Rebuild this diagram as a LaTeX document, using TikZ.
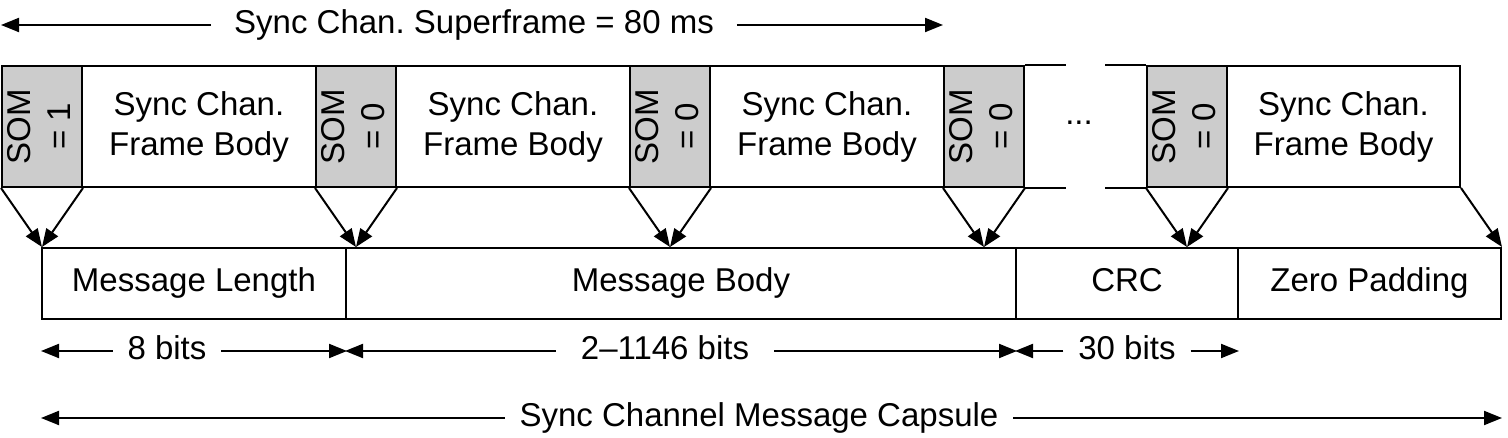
\documentclass[tikz,border=0pt]{standalone}
\usepackage{fontspec}
\setmainfont{Liberation Sans}
\usetikzlibrary{arrows.meta,calc}

\begin{document}
\begin{tikzpicture}[x=1pt,y=1pt,line width=2pt,font=\fontsize{33}{40}\selectfont,
  som/.style={draw=black, fill=black!20, inner sep=0pt, minimum width=80pt, minimum height=121pt},
  body/.style={draw=black, align=center, inner sep=0pt, minimum width=234pt, minimum height=121pt},
  field/.style={draw=black, inner sep=0pt, minimum height=71pt, text height=24pt, text depth=7pt},
  tag/.style={inner xsep=14pt, inner ysep=0pt, text height=24pt, text depth=7pt},
  dim/.style={-{Triangle[length=18pt,width=14pt]}}]
\useasboundingbox (0,0) rectangle (1508,438);

% frames of the superframe
\draw (42,311.5) node[som] (som1) {\rotatebox{90}{\begin{tabular}{@{}c@{}}SOM\\= 1\end{tabular}}};
\draw (199,311.5) node[body] (body1) {Sync Chan.\\Frame Body};
\draw (356,311.5) node[som] (som2) {\rotatebox{90}{\begin{tabular}{@{}c@{}}SOM\\= 0\end{tabular}}};
\draw (513,311.5) node[body] (body2) {Sync Chan.\\Frame Body};
\draw (670,311.5) node[som] (som3) {\rotatebox{90}{\begin{tabular}{@{}c@{}}SOM\\= 0\end{tabular}}};
\draw (827,311.5) node[body] (body3) {Sync Chan.\\Frame Body};
\draw (984,311.5) node[som] (som4) {\rotatebox{90}{\begin{tabular}{@{}c@{}}SOM\\= 0\end{tabular}}};
\draw (1187,311.5) node[som] (som5) {\rotatebox{90}{\begin{tabular}{@{}c@{}}SOM\\= 0\end{tabular}}};
\draw (1343.5,311.5) node[body, minimum width=233pt] (body5) {Sync Chan.\\Frame Body};
\draw (1079,315) node[inner sep=0pt] (dots) {...};

% open frame around the dots
\draw (som4.north east) -- ++(41,0);
\draw (som4.south east) -- ++(41,0);
\draw (som5.north west) -- ++(-41,0);
\draw (som5.south west) -- ++(-41,0);

% message capsule
\draw (194,154.5) node[field, minimum width=304pt] (msglen) {Message Length};
\draw (681,154.5) node[field, minimum width=670pt] (msgbody) {Message Body};
\draw (1127,154.5) node[field, minimum width=222pt] (crc) {CRC};
\draw (1369.5,154.5) node[field, minimum width=263pt] (pad) {Zero Padding};

\coordinate (t1) at (som1.south |- msglen.north);
\coordinate (t2) at (som2.south |- msgbody.north);
\coordinate (t3) at (som3.south |- msgbody.north);
\coordinate (t4) at (som4.south |- msgbody.north);
\coordinate (t5) at (som5.south |- crc.north);

\draw[dim] (som1.south west) -- (t1);
\draw[dim] (som1.south east) -- (t1);
\draw[dim] (som2.south west) -- (t2);
\draw[dim] (som2.south east) -- (t2);
\draw[dim] (som3.south west) -- (t3);
\draw[dim] (som3.south east) -- (t3);
\draw[dim] (som4.south west) -- (t4);
\draw[dim] (som4.south east) -- (t4);
\draw[dim] (som5.south west) -- (t5);
\draw[dim] (som5.south east) -- (t5);
\draw[dim] (body5.south east) -- (pad.north east);

% sizes
\draw (474,413) node[tag, inner xsep=22pt] (sf) {Sync Chan.\ Superframe = 80 ms};
\draw[dim] (sf.west) -- (sf.west -| som1.west);
\draw[dim] (sf.east) -- (sf.east -| som4.west);

\draw (167,87) node[tag] (len) {8 bits};
\draw[dim] (len.west) -- (len.west -| msglen.west);
\draw[dim] (len.east) -- (len.east -| msglen.east);

\draw (665,87) node[tag, inner xsep=24pt] (bodylen) {2--1146 bits};
\draw[dim] (bodylen.west) -- (bodylen.west -| msgbody.west);
\draw[dim] (bodylen.east) -- (bodylen.east -| msgbody.east);

\draw (1127,87) node[tag] (crclen) {30 bits};
\draw[dim] (crclen.west) -- (crclen.west -| crc.west);
\draw[dim] (crclen.east) -- (crclen.east -| crc.east);

\draw (759,20) node[tag] (cap) {Sync Channel Message Capsule};
\draw[dim] (cap.west) -- (cap.west -| msglen.west);
\draw[dim] (cap.east) -- (cap.east -| pad.east);

\end{tikzpicture}
\end{document}
